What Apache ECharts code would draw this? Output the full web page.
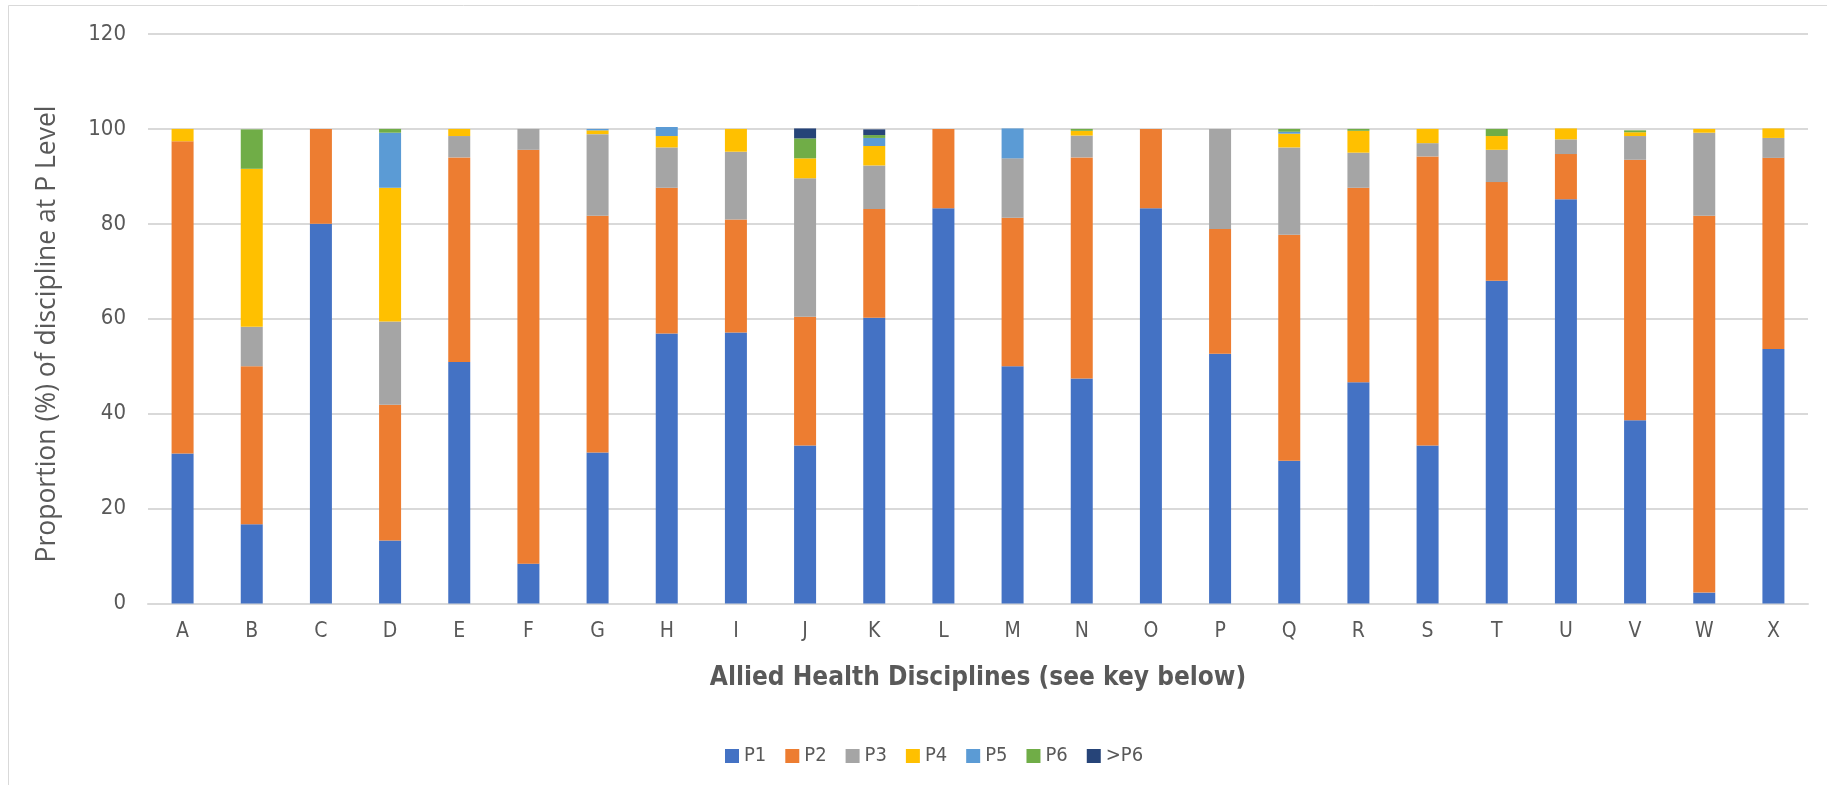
<!DOCTYPE html>
<html>
<head>
<meta charset="utf-8">
<title>Proportion of discipline at P Level</title>
<script src="https://cdn.jsdelivr.net/npm/echarts@6/dist/echarts.min.js"></script>
<style>
  html, body { margin: 0; padding: 0; background: #ffffff; }
  #chart { width: 1827px; height: 785px; }
</style>
</head>
<body>
<div id="chart"></div>
<script>
// Disciplines on the x axis
const disciplines = ['A','B','C','D','E','F','G','H','I','J','K','L','M','N','O','P','Q','R','S','T','U','V','W','X'];

// Percentage of each discipline at each P level
const p1   = [31.6, 16.7, 80.0, 13.3, 50.9,  8.4, 31.8, 56.9, 57.1, 33.3, 60.2, 83.3, 50.0, 47.4, 83.3, 52.6, 30.1, 46.6, 33.3, 68.0, 85.2, 38.6,  2.3, 53.6];
const p2   = [65.8, 33.3, 20.0, 28.6, 43.1, 87.2, 49.9, 30.7, 23.8, 27.1, 22.9, 16.7, 31.3, 46.6, 16.7, 26.3, 47.6, 41.0, 60.9, 20.8,  9.5, 54.9, 79.4, 40.3];
const p3   = [ 0.0,  8.3,  0.0, 17.5,  4.5,  4.4, 17.2,  8.5, 14.3, 29.2,  9.2,  0.0, 12.5,  4.6,  0.0, 21.1, 18.4,  7.4,  2.8,  6.8,  3.1,  5.0, 17.5,  4.2];
const p4   = [ 2.6, 33.3,  0.0, 28.2,  1.5,  0.0,  0.8,  2.4,  4.8,  4.2,  4.1,  0.0,  0.0,  1.0,  0.0,  0.0,  2.9,  4.6,  3.0,  2.9,  2.3,  0.8,  0.8,  2.0];
const p5   = [ 0.0,  0.0,  0.0, 11.6,  0.0,  0.0,  0.3,  1.9,  0.0,  0.0,  1.7,  0.0,  6.3,  0.0,  0.0,  0.0,  0.4,  0.0,  0.0,  0.0,  0.0,  0.0,  0.0,  0.0];
const p6   = [ 0.0,  8.3,  0.0,  0.8,  0.0,  0.0,  0.0,  0.0,  0.0,  4.2,  0.6,  0.0,  0.0,  0.4,  0.0,  0.0,  0.6,  0.4,  0.0,  1.5,  0.0,  0.4,  0.0,  0.0];
const pOver6 = [0.0, 0.0,  0.0,  0.0,  0.0,  0.0,  0.0,  0.0,  0.0,  2.1,  1.2,  0.0,  0.0,  0.0,  0.0,  0.0,  0.0,  0.0,  0.0,  0.0,  0.0,  0.0,  0.0,  0.0];

const levelNames = ['P1', 'P2', 'P3', 'P4', 'P5', 'P6', '>P6'];
const levelData = [p1, p2, p3, p4, p5, p6, pOver6];
const levelColors = ['#4472C4', '#ED7D31', '#A5A5A5', '#FFC000', '#5B9BD5', '#70AD47', '#264478'];

const yTicks = { min: 0, max: 120, interval: 20 };
const yTitle = 'Proportion (%) of discipline at P Level';

const textColor = '#595959';
const narrowFont = "'Liberation Sans Narrow', 'DejaVu Sans Condensed', 'Liberation Sans', sans-serif";

const chart = echarts.init(document.getElementById('chart'), null, { renderer: 'canvas' });

const series = levelNames.map((name, i) => ({
  name: name,
  type: 'bar',
  stack: 'level',
  barWidth: 22,
  data: levelData[i],
  itemStyle: { color: levelColors[i] },
  emphasis: { disabled: true }
}));

chart.setOption({
  animation: false,
  backgroundColor: '#ffffff',
  graphic: [
    {
      // chart frame
      type: 'rect',
      shape: { x: 8.5, y: 5.5, width: 1900, height: 900 },
      style: { fill: 'none', stroke: '#d9d9d9', lineWidth: 1 },
      silent: true,
      z: -1
    },
    {
      // vertical axis title
      type: 'text',
      x: 47,
      y: 334,
      rotation: Math.PI / 2,
      silent: true,
      style: {
        text: yTitle,
        fill: textColor,
        font: "26.5px 'Open Sans', 'Noto Sans', sans-serif",
        align: 'center',
        verticalAlign: 'middle'
      }
    }
  ],
  grid: { left: 148, right: 19, top: 34, bottom: 181.5, containLabel: false },
  legend: {
    data: levelNames,
    left: 720,
    top: 741,
    icon: 'rect',
    itemWidth: 14,
    itemHeight: 14,
    itemGap: 19,
    textStyle: { color: textColor, fontSize: 20, fontFamily: narrowFont }
  },
  xAxis: {
    type: 'category',
    data: disciplines,
    name: 'Allied Health Disciplines (see key below)',
    nameLocation: 'middle',
    nameGap: 62,
    nameTextStyle: { color: textColor, fontSize: 26, fontWeight: 'bold', fontFamily: narrowFont },
    axisLine: { show: true, lineStyle: { color: '#d9d9d9', width: 2 } },
    axisTick: { show: false },
    axisLabel: { color: textColor, fontSize: 21, fontFamily: narrowFont, margin: 18 }
  },
  yAxis: {
    type: 'value',
    min: yTicks.min,
    max: yTicks.max,
    interval: yTicks.interval,
    axisLine: { show: false },
    axisTick: { show: false },
    axisLabel: { color: textColor, fontSize: 22, fontFamily: narrowFont, margin: 22 },
    splitLine: { lineStyle: { color: '#d9d9d9', width: 2 } }
  },
  series: series
});
</script>
</body>
</html>
